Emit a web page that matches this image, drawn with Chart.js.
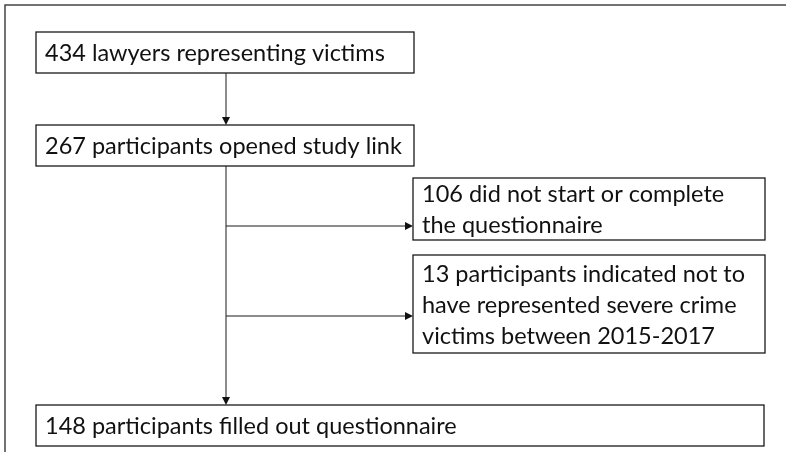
<!DOCTYPE html>
<html>
<head>
<meta charset="utf-8">
<script src="https://cdn.jsdelivr.net/npm/chart.js@4.4.1/dist/chart.umd.min.js"></script>
<style>
html, body { margin: 0; padding: 0; background: #fff; }
#wrap { width: 786px; height: 452px; }
</style>
</head>
<body>
<div id="wrap"><canvas id="flowChart"></canvas></div>
<script>
// flow counts and the text that goes with each step
const stepCounts = [434, 267, 106, 13, 148];
const stepLines = [
    ['lawyers representing victims'],
    ['participants opened study link'],
    ['did not start or complete', 'the questionnaire'],
    ['participants indicated not to', 'have represented severe crime', 'victims between 2015-2017'],
    ['participants filled out questionnaire']
];

// box geometry in chart units (x scale 0..786, y scale 0..452 top down)
const boxes = [
    { x0: 36, y0: 32, x1: 414, y1: 73 },
    { x0: 36, y0: 125, x1: 414, y1: 166 },
    { x0: 413, y0: 178, x1: 765, y1: 240 },
    { x0: 413, y0: 255, x1: 765, y1: 353 },
    { x0: 36, y0: 405, x1: 764, y1: 446 }
];
const trunkX = 226;
const exitY = [226, 316];

function boxText(i) {
    const lines = stepLines[i].slice();
    lines[0] = stepCounts[i] + ' ' + lines[0];
    return lines;
}

const flowPlugin = {
    id: 'flowPlugin',
    afterDraw(chart) {
        const ctx = chart.ctx;
        const xs = chart.scales.x, ys = chart.scales.y;
        const px = v => xs.getPixelForValue(v);
        const py = v => ys.getPixelForValue(v);

        ctx.save();
        // outer frame (runs off the right and bottom)
        ctx.strokeStyle = '#444';
        ctx.lineWidth = 1.5;
        ctx.beginPath();
        ctx.moveTo(px(5), py(452));
        ctx.lineTo(px(5), py(5));
        ctx.lineTo(px(786), py(5));
        ctx.stroke();

        // boxes + text
        ctx.strokeStyle = '#1a1a1a';
        ctx.lineWidth = 1.3;
        ctx.fillStyle = '#111';
        ctx.font = '23.5px Lato, "Open Sans", sans-serif';
        ctx.textBaseline = 'middle';
        boxes.forEach((b, i) => {
            ctx.strokeRect(px(b.x0), py(b.y0), px(b.x1) - px(b.x0), py(b.y1) - py(b.y0));
            const lines = boxText(i);
            const lh = 31;
            const mid = (py(b.y0) + py(b.y1)) / 2;
            const top = mid - (lines.length - 1) * lh / 2;
            lines.forEach((t, k) => ctx.fillText(t, px(b.x0) + 9, top + k * lh + 1));
        });

        // connectors
        ctx.lineWidth = 1;
        ctx.strokeStyle = '#1a1a1a';
        const arrowHead = (x, y, dir) => {
            ctx.beginPath();
            if (dir === 'down') {
                ctx.moveTo(x, y); ctx.lineTo(x - 4, y - 8); ctx.lineTo(x + 4, y - 8);
            } else {
                ctx.moveTo(x, y); ctx.lineTo(x - 8, y - 4); ctx.lineTo(x - 8, y + 4);
            }
            ctx.closePath();
            ctx.fill();
        };
        const line = (x0, y0, x1, y1) => {
            ctx.beginPath(); ctx.moveTo(x0, y0); ctx.lineTo(x1, y1); ctx.stroke();
        };
        // box 1 -> box 2
        line(px(trunkX), py(boxes[0].y1), px(trunkX), py(boxes[1].y0) - 2);
        arrowHead(px(trunkX), py(boxes[1].y0), 'down');
        // box 2 -> box 5 trunk
        line(px(trunkX), py(boxes[1].y1), px(trunkX), py(boxes[4].y0) - 2);
        arrowHead(px(trunkX), py(boxes[4].y0), 'down');
        // side exits
        exitY.forEach((y, k) => {
            const b = boxes[2 + k];
            line(px(trunkX), py(y), px(b.x0) - 2, py(y));
            arrowHead(px(b.x0), py(y), 'right');
        });
        ctx.restore();
    }
};

const ctx = document.getElementById('flowChart').getContext('2d');
const chart = new Chart(ctx, {
    type: 'scatter',
    data: {
        datasets: [{
            label: 'steps',
            data: boxes.map((b, i) => ({ x: (b.x0 + b.x1) / 2, y: (b.y0 + b.y1) / 2, n: stepCounts[i] })),
            pointRadius: 0,
            pointHoverRadius: 0
        }]
    },
    options: {
        responsive: true,
        maintainAspectRatio: false,
        animation: false,
        layout: { padding: 0 },
        plugins: { legend: { display: false }, tooltip: { enabled: false } },
        scales: {
            x: { type: 'linear', min: 0, max: 786, display: false },
            y: { type: 'linear', min: 0, max: 452, reverse: true, display: false }
        }
    },
    plugins: [flowPlugin]
});
</script>
</body>
</html>
